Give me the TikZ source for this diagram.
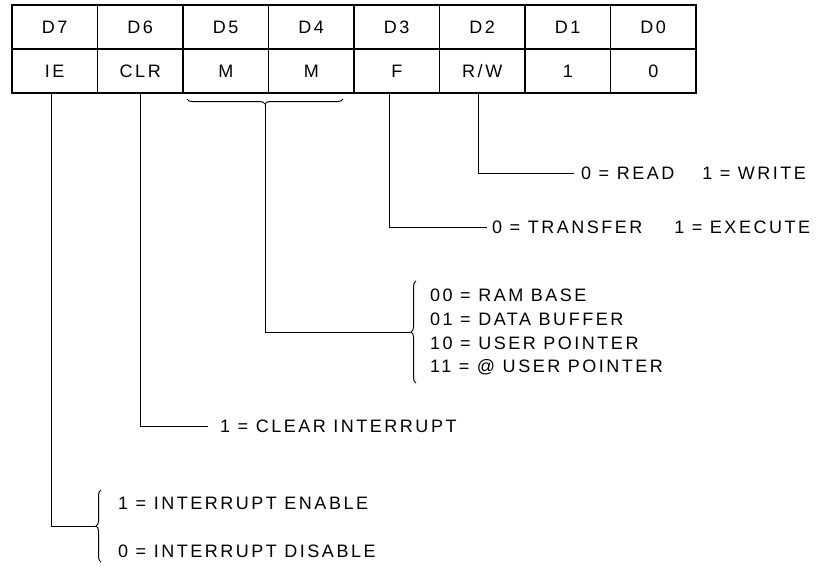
\documentclass[tikz,border=0pt]{standalone}
\usepackage{fontspec}
\setmainfont{Liberation Sans}[LetterSpace=14]
\usetikzlibrary{decorations.pathreplacing}
\newcommand\dfont{\fontsize{18}{21}\selectfont}
\begin{document}
\begin{tikzpicture}[x=1pt,y=1pt,
  cell/.style={draw, line width=1.1pt, minimum width=85.5pt, minimum height=44pt, inner sep=0pt, font=\dfont},
  lbl/.style={anchor=west, inner sep=0pt, font=\dfont},
  conn/.style={line width=1pt},
  brc/.style={decorate, decoration={brace, amplitude=5pt}, line width=1pt}]
\useasboundingbox (0,0) rectangle (824,-566);
% register table
\foreach \n/\t [count=\i from 0] in {d7/D7,d6/D6,d5/D5,d4/D4,d3/D3,d2/D2,d1/D1,d0/D0}
  \node[cell] (\n) at (54.75+85.5*\i,-27) {\t};
\foreach \n/\t [count=\i from 0] in {b7/IE,b6/CLR,b5/M,b4/M,b3/F,b2/{R/W},b1/1,b0/0}
  \node[cell] (\n) at (54.75+85.5*\i,-71) {\t};
% labels
\node[lbl] (read) at (581,-173) {0 = READ\hspace{28pt}1 = WRITE};
\node[lbl] (trans) at (492,-227) {0 = TRANSFER\hspace{32pt}1 = EXECUTE};
\node[lbl] (m0) at (430,-295) {00 = RAM BASE};
\node[lbl] (m1) at (430,-319) {01 = DATA BUFFER};
\node[lbl] (m2) at (430,-343) {10 = USER POINTER};
\node[lbl] (m3) at (430,-367) {11 = @ USER POINTER};
\node[lbl] (clr) at (220,-426) {1 = CLEAR INTERRUPT};
\node[lbl] (ien) at (118,-503) {1 = INTERRUPT ENABLE};
\node[lbl] (idis) at (118,-551) {0 = INTERRUPT DISABLE};
% braces
\draw[brc] (343,-99) -- (187,-99);
\coordinate (mtip) at (265,-104);
\draw[brc] (416,-383) -- (416,-281);
\coordinate (ltip) at (411,-332);
\draw[brc] (101,-562) -- (101,-490);
\coordinate (etip) at (96,-526);
% connectors
\draw[conn] ([xshift=-3pt]b7.south) |- (etip);
\draw[conn] (b6.south) |- ([xshift=-12pt]clr.west);
\draw[conn] (mtip) |- (ltip);
\draw[conn] ([xshift=-7pt]b3.south) |- ([xshift=-5pt]trans.west);
\draw[conn] ([xshift=-4pt]b2.south) |- ([xshift=-7pt]read.west);
\end{tikzpicture}
\end{document}
